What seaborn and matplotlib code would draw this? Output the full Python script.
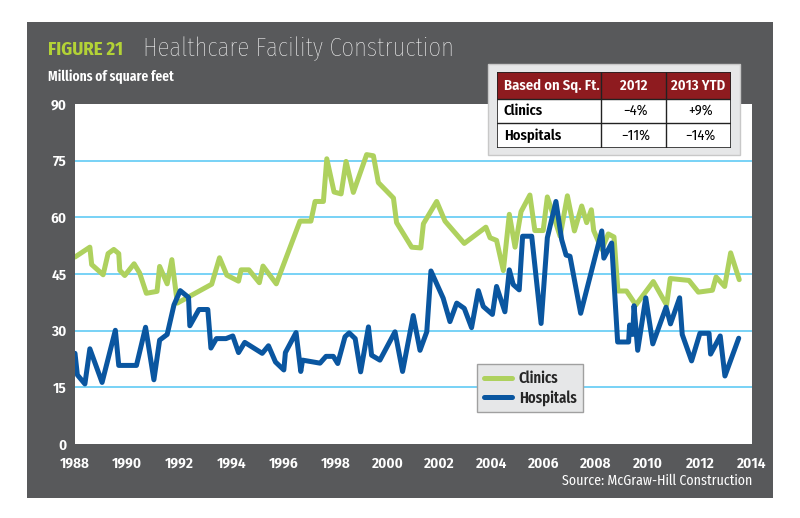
import pandas as pd
import matplotlib.pyplot as plt
import matplotlib.patches as mpatches
import seaborn as sns

# values (millions of sq ft)
clinic_years = [1988.0, 1988.57, 1988.64, 1989.08, 1989.27, 1989.49, 1989.68, 1989.72, 1989.91, 1990.27,
                1990.48, 1990.74, 1991.15, 1991.25, 1991.54, 1991.72, 1991.93, 1993.25, 1993.55, 1993.83,
                1994.28, 1994.38, 1994.68, 1995.08, 1995.22, 1995.73, 1996.64, 1997.06, 1997.22, 1997.54,
                1997.67, 1997.95, 1998.22, 1998.41, 1998.69, 1999.20, 1999.46, 1999.65, 2000.23, 2000.35,
                2000.93, 2001.28, 2001.38, 2001.89, 2002.21, 2002.95, 2003.78, 2003.94, 2004.19, 2004.45,
                2004.68, 2004.90, 2005.13, 2005.47, 2005.66, 2005.98, 2006.14, 2006.63, 2006.91, 2007.18,
                2007.46, 2007.65, 2007.83, 2007.92, 2008.23, 2008.48, 2008.70, 2008.85, 2009.18, 2009.54,
                2010.21, 2010.72, 2010.86, 2011.58, 2011.94, 2012.48, 2012.62, 2012.95, 2013.18, 2013.51]
clinic_values = [49.5, 52.1, 47.5, 44.8, 50.4, 51.5, 50.4, 46.0, 44.6, 47.7,
                 45.3, 39.9, 40.4, 47.0, 42.4, 48.8, 37.3, 42.3, 49.3, 44.7,
                 43.1, 46.1, 46.1, 42.7, 47.1, 42.4, 59.0, 59.0, 64.2, 64.2,
                 75.5, 66.7, 66.2, 74.8, 66.6, 76.6, 76.3, 69.2, 65.1, 58.6,
                 52.1, 51.9, 58.3, 64.2, 59.0, 53.1, 57.4, 54.6, 53.9, 45.9,
                 60.8, 52.1, 61.5, 65.9, 56.5, 56.5, 65.4, 55.0, 65.7, 56.4,
                 63.0, 58.6, 62.0, 56.5, 51.5, 55.6, 54.8, 40.5, 40.5, 36.8,
                 43.0, 36.8, 43.8, 43.3, 40.2, 40.7, 44.2, 41.7, 50.6, 43.5]

hospital_years = [1988.0, 1988.09, 1988.38, 1988.57, 1989.04, 1989.55, 1989.68, 1990.36, 1990.71, 1991.03,
                  1991.25, 1991.54, 1991.80, 1992.04, 1992.36, 1992.41, 1992.76, 1993.10, 1993.22, 1993.43,
                  1993.80, 1994.06, 1994.28, 1994.52, 1995.19, 1995.43, 1995.70, 1996.02, 1996.08, 1996.49,
                  1996.67, 1996.74, 1997.41, 1997.64, 1997.92, 1998.09, 1998.37, 1998.53, 1998.76, 1998.97,
                  1999.27, 1999.39, 1999.71, 2000.29, 2000.58, 2000.99, 2001.25, 2001.51, 2001.67, 2002.14,
                  2002.40, 2002.66, 2002.95, 2003.23, 2003.49, 2003.68, 2004.03, 2004.19, 2004.51, 2004.68,
                  2004.83, 2005.06, 2005.19, 2005.54, 2005.90, 2006.14, 2006.47, 2006.69, 2006.86, 2007.01,
                  2007.42, 2008.23, 2008.31, 2008.61, 2008.84, 2009.26, 2009.30, 2009.42, 2009.47, 2009.61,
                  2009.92, 2010.19, 2010.70, 2010.87, 2011.22, 2011.32, 2011.68, 2012.0, 2012.35, 2012.41,
                  2012.78, 2012.96, 2013.49]
hospital_values = [24.0, 18.3, 15.9, 25.2, 16.3, 30.1, 20.8, 20.8, 30.9, 17.0,
                   27.5, 29.0, 36.8, 40.6, 38.8, 31.3, 35.6, 35.6, 25.4, 27.9,
                   27.9, 28.6, 24.2, 26.9, 24.0, 26.0, 21.7, 19.6, 24.2, 29.5,
                   19.2, 22.2, 21.4, 23.2, 23.2, 21.3, 28.4, 29.4, 27.9, 19.1,
                   31.0, 23.5, 22.2, 29.7, 19.2, 34.0, 24.8, 29.7, 45.8, 38.6,
                   32.4, 37.3, 35.9, 30.8, 40.6, 36.4, 34.3, 41.7, 35.0, 46.1,
                   42.2, 40.8, 55.0, 55.0, 31.9, 54.6, 64.2, 54.1, 50.0, 49.7,
                   34.6, 56.4, 49.2, 53.2, 27.0, 27.0, 31.5, 29.0, 36.6, 24.8,
                   38.7, 26.5, 36.2, 31.8, 38.7, 29.0, 22.0, 29.3, 29.3, 23.8,
                   28.6, 18.0, 28.0]

series_names = ['Clinics', 'Hospitals']
x_ticks = list(range(1988, 2015, 2))
y_ticks = list(range(0, 91, 15))

table_header = ['Based on Sq. Ft.', '2012', '2013 YTD']
table_rows = [['Clinics', '\u22124%', '+9%'],
              ['Hospitals', '\u221211%', '\u221214%']]

GREEN = '#AED15E'
BLUE = '#0A56A0'
PANEL = '#58595B'
GRID = '#6DCFF6'
RED = '#8E1B1F'
FONT = ['Fira Sans Condensed', 'DejaVu Sans']
NARROW = ['Fira Sans Extra Condensed', 'DejaVu Sans']

W, H = 800, 518


def fig_box(x0, y0, x1, y1):
    # pixel box (top-left origin) -> figure fraction [left, bottom, width, height]
    return [x0 / W, 1 - y1 / H, (x1 - x0) / W, (y1 - y0) / H]


def build_frame():
    clinics = pd.DataFrame({'year': clinic_years, 'value': clinic_values, 'series': series_names[0]})
    hospitals = pd.DataFrame({'year': hospital_years, 'value': hospital_values, 'series': series_names[1]})
    return pd.concat([clinics, hospitals], ignore_index=True)


def draw_table(fig):
    l, b, w, h = fig_box(488, 64, 740, 155)
    fig.patches.append(mpatches.Rectangle((l, b), w, h, transform=fig.transFigure,
                                          facecolor='#E6E7E8', edgecolor='#C8C8C8', lw=1, zorder=5))
    tab = fig.add_axes(fig_box(497, 72, 731, 148), zorder=6)
    tab.set_xlim(0, 234)
    tab.set_ylim(76, 0)
    tab.axis('off')
    col_edges = [0, 104, 169, 234]
    row_edges = [0, 27, 51, 76]
    tab.add_patch(mpatches.Rectangle((0, 0), 234, 27, facecolor=RED, edgecolor='none'))
    tab.add_patch(mpatches.Rectangle((0, 27), 234, 49, facecolor='white', edgecolor='none'))
    for y in row_edges[1:-1]:
        tab.plot([0, 234], [y, y], color='#222222', lw=1)
    for x in col_edges[1:-1]:
        tab.plot([x, x], [0, 76], color='#222222', lw=1)
    tab.add_patch(mpatches.Rectangle((0, 0), 234, 76, facecolor='none', edgecolor='#222222', lw=1.2))

    for i, txt in enumerate(table_header):
        y = (row_edges[0] + row_edges[1]) / 2
        if i == 0:
            tab.text(7, y, txt, color='white', weight='semibold', size=10.5, va='center', ha='left')
        else:
            tab.text((col_edges[i] + col_edges[i + 1]) / 2, y, txt, color='white',
                     weight='semibold', size=10.5, va='center', ha='center')
    for r, row in enumerate(table_rows):
        y = (row_edges[r + 1] + row_edges[r + 2]) / 2
        for i, txt in enumerate(row):
            if i == 0:
                tab.text(7, y, txt, color='black', weight='semibold', size=10.5, va='center', ha='left')
            else:
                tab.text((col_edges[i] + col_edges[i + 1]) / 2 + 2, y, txt, color='black',
                         size=10.5, va='center', ha='center')


def draw(df):
    sns.set_theme(style='white')
    plt.rcParams['font.family'] = FONT

    fig = plt.figure(figsize=(W / 100, H / 100), dpi=100)
    fig.patch.set_facecolor('white')
    l, b, w, h = fig_box(27, 22, 773, 498)
    fig.patches.append(mpatches.Rectangle((l, b), w, h, transform=fig.transFigure,
                                          facecolor=PANEL, edgecolor='none', zorder=-5))

    ax = fig.add_axes(fig_box(75, 104, 752, 444), zorder=1)
    ax.set_facecolor('white')
    sns.lineplot(data=df, x='year', y='value', hue='series', hue_order=series_names,
                 palette=[GREEN, BLUE], sort=False, estimator=None, linewidth=3.6, ax=ax)

    ax.set_xlim(1988, 2014)
    ax.set_ylim(0, 90)
    ax.set_xticks(x_ticks)
    ax.set_yticks(y_ticks)
    ax.set_xlabel('')
    ax.set_ylabel('')
    for s in ax.spines.values():
        s.set_visible(False)
    ax.yaxis.grid(True, color=GRID, lw=1.3)
    ax.xaxis.grid(False)
    ax.set_axisbelow(True)
    glines = ax.yaxis.get_gridlines()
    glines[0].set_visible(False)
    glines[-1].set_visible(False)
    ax.tick_params(axis='both', length=0, colors='white', labelsize=11)
    ax.tick_params(axis='x', pad=9)
    ax.tick_params(axis='y', pad=6)
    for lab in ax.get_xticklabels() + ax.get_yticklabels():
        lab.set_fontweight('semibold')

    handles, labels = ax.get_legend_handles_labels()
    ax.legend(handles, labels, loc='lower left', bbox_to_anchor=(0.594, 0.094), borderaxespad=0,
              frameon=True, fancybox=False, edgecolor='#A0A0A0', facecolor='#E6E7E8',
              framealpha=1, prop={'family': NARROW, 'weight': 'semibold', 'size': 11.5},
              handlelength=1.8, handletextpad=0.4, labelspacing=0.2, borderpad=0.4)

    fig.text(48 / W, 1 - 50 / H, 'FIGURE 21', color='#B3D236', weight='bold', size=13.5, va='center')
    fig.text(143 / W, 1 - 49 / H, 'Healthcare Facility Construction', color='white',
             size=19.5, va='center', family=NARROW, weight='light')
    fig.text(48 / W, 1 - 77 / H, 'Millions of square feet', color='white', weight='semibold',
             size=10.5, va='center', family=NARROW)
    fig.text(752 / W, 1 - 481 / H, 'Source: McGraw-Hill Construction', color='white',
             size=10, ha='right', va='center')

    draw_table(fig)
    fig.savefig('out.png', dpi=100)


def main():
    df = build_frame()
    draw(df)


if __name__ == '__main__':
    main()
